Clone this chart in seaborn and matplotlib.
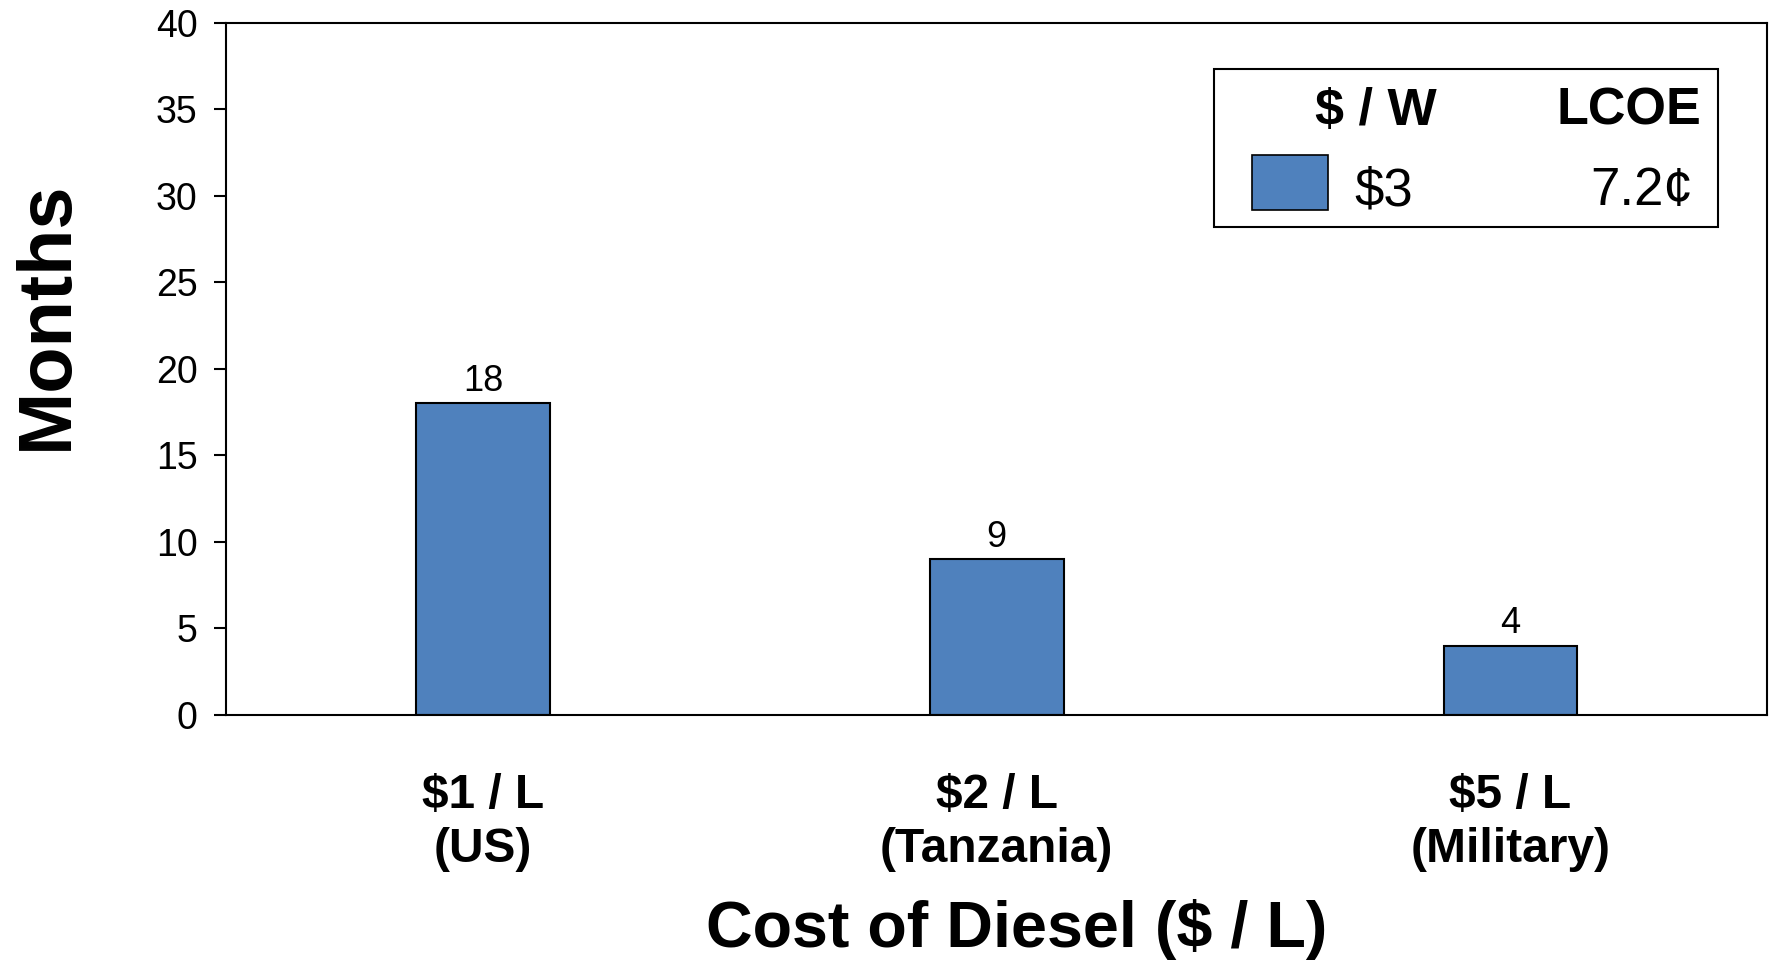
import matplotlib
matplotlib.use("Agg")
import matplotlib.pyplot as plt
import seaborn as sns
import pandas as pd
from matplotlib.patches import Rectangle

# ---- data ----
categories = ["$1 / L\n(US)", "$2 / L\n(Tanzania)", "$5 / L\n(Military)"]
months = [18, 9, 4]
y_ticks = [0, 5, 10, 15, 20, 25, 30, 35, 40]
legend_headers = ["$ / W", "LCOE"]
legend_values = ["$3", "7.2\u00a2"]
x_title = "Cost of Diesel ($ / L)"
y_title = "Months"

sns.set_theme(style="white")
plt.rcParams['font.family'] = ['Liberation Sans', 'DejaVu Sans']
plt.rcParams['text.color'] = 'black'
plt.rcParams['axes.labelcolor'] = 'black'
plt.rcParams['xtick.color'] = 'black'
plt.rcParams['ytick.color'] = 'black'

BAR_COLOR = "#4F81BD"

fig = plt.figure(figsize=(17.71, 9.61), dpi=100)
ax = fig.add_axes([0.1276, 0.2562, 0.8704, 0.7203])

df = pd.DataFrame({"cat": categories, "months": months})
sns.barplot(data=df, x="cat", y="months", color=BAR_COLOR, width=0.26,
            edgecolor="black", linewidth=1.5, saturation=1, ax=ax)

for c in ax.containers:
    ax.bar_label(c, labels=[str(v) for v in months], padding=3, fontsize=26, color="black")

ax.set_ylim(0, 40)
ax.set_xlim(-0.5, 2.5)
ax.set_yticks(y_ticks)
ax.set_yticklabels([str(t) for t in y_ticks], fontsize=27, color="black")
ax.tick_params(axis="y", direction="out", length=8.5, width=1.5, pad=12, color="black", left=True)
ax.tick_params(axis="x", length=0, pad=42)
for lab in ax.get_xticklabels():
    lab.set_fontsize(34.5)
    lab.set_fontweight("bold")
    lab.set_color("black")
    lab.set_linespacing(1.25)

for sp in ax.spines.values():
    sp.set_visible(True)
    sp.set_color("black")
    sp.set_linewidth(1.5)

ax.set_xlabel(x_title, fontsize=46.5, fontweight="bold", va="top", color="black")
ax.xaxis.set_label_coords(0.5127, -0.266)
ax.set_ylabel(y_title, fontsize=54.5, fontweight="bold", color="black")
ax.yaxis.set_label_coords(-0.093, 0.577)

# ---- legend box ----
ax.add_patch(Rectangle((0.641, 0.705), 0.3266, 0.228, transform=ax.transAxes,
                       facecolor="white", edgecolor="black", linewidth=1.5, zorder=5))
ax.add_patch(Rectangle((0.6656, 0.729), 0.0491, 0.080, transform=ax.transAxes,
                       facecolor=BAR_COLOR, edgecolor="black", linewidth=1.2, zorder=6))
ax.text(0.746, 0.872, legend_headers[0], transform=ax.transAxes, ha="center", va="center",
        fontsize=37.5, fontweight="bold", zorder=7, color="black")
ax.text(0.957, 0.872, legend_headers[1], transform=ax.transAxes, ha="right", va="center",
        fontsize=37.5, fontweight="bold", zorder=7, color="black")
ax.text(0.732, 0.756, legend_values[0], transform=ax.transAxes, ha="left", va="center",
        fontsize=38, zorder=7, color="black")
ax.text(0.952, 0.756, legend_values[1], transform=ax.transAxes, ha="right", va="center",
        fontsize=38, zorder=7, color="black")

fig.savefig("out.png", dpi=100)
